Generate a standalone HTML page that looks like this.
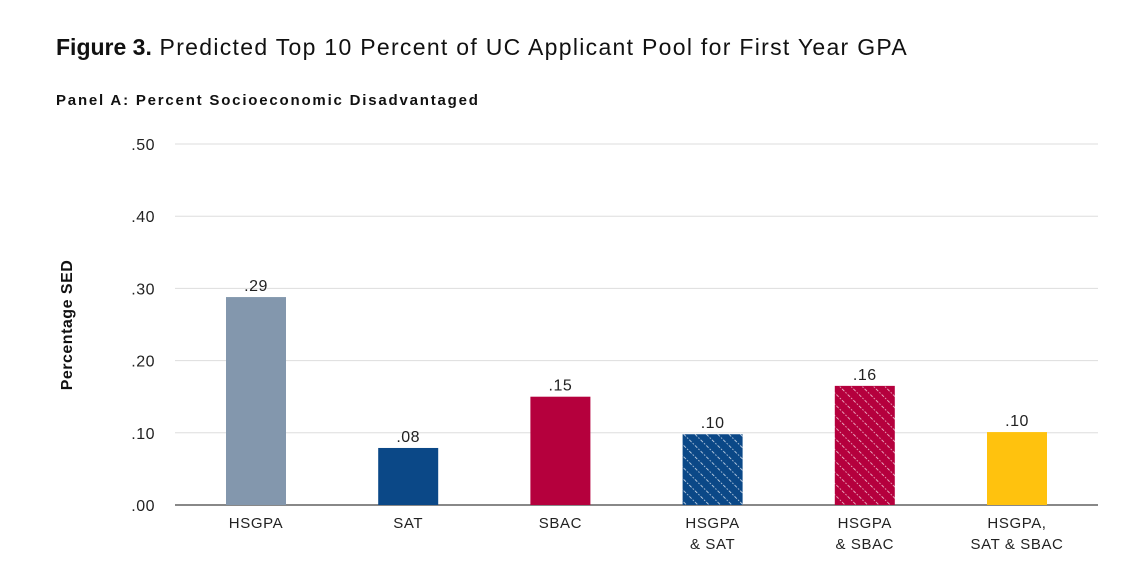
<!DOCTYPE html>
<html><head><meta charset="utf-8"><style>
body{margin:0;background:#fff;width:1146px;height:583px;overflow:hidden;font-family:"Liberation Sans",sans-serif}
</style></head><body>
<svg width="1146" height="583">
<defs>
<pattern id="pBlue" width="8" height="8" patternUnits="userSpaceOnUse" patternTransform="rotate(-45)">
<rect width="8" height="8" fill="#0b4887"/><line x1="0" y1="0" x2="0" y2="8" stroke="#d5e0ee" stroke-width="1.6" stroke-dasharray="1.6 1.6"/></pattern>
<pattern id="pRed" width="8" height="8" patternUnits="userSpaceOnUse" patternTransform="rotate(-45)">
<rect width="8" height="8" fill="#b5003d"/><line x1="0" y1="0" x2="0" y2="8" stroke="#f3cbd8" stroke-width="1.6" stroke-dasharray="1.6 1.6"/></pattern>
</defs>
<text x="56" y="55" font-size="23" letter-spacing="1.3" fill="#111"><tspan font-weight="bold" letter-spacing="0">Figure 3.</tspan> Predicted Top 10 Percent of UC Applicant Pool for First Year GPA</text>
<text x="56" y="105" font-size="15" font-weight="bold" letter-spacing="1.8" fill="#111">Panel A: Percent Socioeconomic Disadvantaged</text>
<text transform="translate(72,325) rotate(-90)" text-anchor="middle" font-size="16" font-weight="bold" letter-spacing="0.5" fill="#111">Percentage SED</text>
<g id="grid"></g><g id="bars"></g>
</svg>
<script>
const categories=[["HSGPA"],["SAT"],["SBAC"],["HSGPA","& SAT"],["HSGPA","& SBAC"],["HSGPA,","SAT & SBAC"]];
const values=[0.288,0.079,0.150,0.098,0.165,0.101];
const labels=[".29",".08",".15",".10",".16",".10"];
const fills=["#8397ad","#0b4887","#b5003d","url(#pBlue)","url(#pRed)","#ffc20e"];
const ticks=[0,0.1,0.2,0.3,0.4,0.5];
const tickLabels=[".00",".10",".20",".30",".40",".50"];
const NS="http://www.w3.org/2000/svg";
const y=v=>505-v*722;
const x=i=>256+i*152.2;
const grid=document.getElementById('grid'),bars=document.getElementById('bars');
function mk(tag,at,par){const e=document.createElementNS(NS,tag);for(const k in at)e.setAttribute(k,at[k]);par.appendChild(e);return e;}
ticks.forEach((t,i)=>{
 const l=mk('line',{x1:175,x2:1098,y1:y(t),y2:y(t),stroke:t===0?'#888':'#ddd','stroke-width':t===0?2:1},grid);
 
 
 const tx=mk('text',{x:155,y:y(t)+6,'text-anchor':'end','font-size':16,'letter-spacing':0.5,fill:'#222'},grid);tx.textContent=tickLabels[i];
 
 
});
values.forEach((v,i)=>{
 const r=mk('rect',{x:x(i)-30,y:y(v),width:60,height:505-y(v),fill:fills[i]},bars);
 
 
 const t=mk('text',{x:x(i),y:y(v)-6,'text-anchor':'middle','font-size':16,'letter-spacing':0.5,fill:'#222'},bars);t.textContent=labels[i];
 
 
 categories[i].forEach((c,j)=>{
  const ct=mk('text',{x:x(i),y:528+j*21,'text-anchor':'middle','font-size':15,'letter-spacing':0.6,fill:'#222'},bars);ct.textContent=c;
  
  
 });
});
</script>
</body></html>
